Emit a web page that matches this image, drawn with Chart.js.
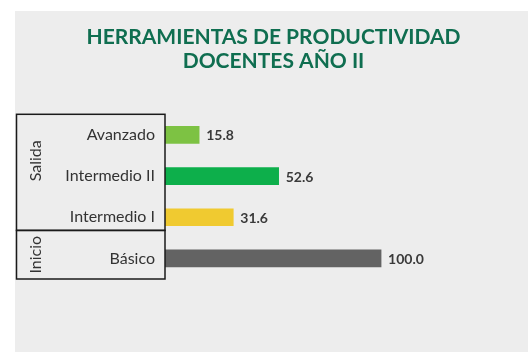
<!DOCTYPE html>
<html>
<head>
<meta charset="utf-8">
<script src="https://cdn.jsdelivr.net/npm/chart.js@4"></script>
<style>
  html, body { margin: 0; padding: 0; background: #ffffff; }
  #panel { position: absolute; left: 15px; top: 11px; width: 513px; height: 341px; background: #ededed; }
</style>
</head>
<body>
<div id="panel"><canvas id="grafico" width="513" height="341"></canvas></div>
<script>
const categorias = ['Avanzado', 'Intermedio II', 'Intermedio I', 'Básico'];
const valores = [15.8, 52.6, 31.6, 100.0];
const colores = ['#7dc243', '#0daf4b', '#f0ca30', '#636363'];
const grupos = [
    { nombre: 'Salida', desde: 0, hasta: 2 },
    { nombre: 'Inicio', desde: 3, hasta: 3 }
];

// etiquetas de valor al final de cada barra
const etiquetasValor = {
    id: 'etiquetasValor',
    afterDatasetsDraw(chart) {
        const ctx = chart.ctx;
        const meta = chart.getDatasetMeta(0);
        ctx.save();
        ctx.font = 'bold 14px Lato';
        ctx.fillStyle = '#3a3a3a';
        ctx.textBaseline = 'middle';
        meta.data.forEach((bar, i) => {
            ctx.fillText(valores[i].toFixed(1), bar.x + 7, bar.y + 1);
        });
        ctx.restore();
    }
};

// marco de grupos (Salida / Inicio) a la izquierda
const marcoGrupos = {
    id: 'marcoGrupos',
    afterDraw(chart) {
        const ctx = chart.ctx;
        const y = chart.scales.y;
        const area = chart.chartArea;
        const izq = 1.5;
        const der = area.left;
        // el corte entre grupos queda algo más arriba del límite de banda
        const corte = y.getPixelForValue(2.32);
        const cajas = [
            { arriba: area.top, abajo: corte, texto: area.top + (corte - area.top) * 0.4 },
            { arriba: corte, abajo: area.bottom, texto: (corte + area.bottom) / 2 }
        ];
        ctx.save();
        ctx.strokeStyle = '#1a1a1a';
        ctx.lineWidth = 1.5;
        grupos.forEach((g, i) => {
            const c = cajas[i];
            ctx.strokeRect(izq, c.arriba, der - izq, c.abajo - c.arriba);
            ctx.save();
            ctx.translate(21, c.texto);
            ctx.rotate(-Math.PI / 2);
            ctx.font = '16px Lato';
            ctx.fillStyle = '#333333';
            ctx.textAlign = 'center';
            ctx.textBaseline = 'middle';
            ctx.fillText(g.nombre, 0, 0);
            ctx.restore();
        });
        ctx.restore();
    }
};

new Chart(document.getElementById('grafico'), {
    type: 'bar',
    data: {
        labels: categorias,
        datasets: [{
            data: valores,
            backgroundColor: colores,
            borderWidth: 0,
            barThickness: 17
        }]
    },
    options: {
        indexAxis: 'y',
        responsive: false,
        animation: false,
        layout: { padding: { left: 4, right: 0, bottom: 73 } },
        plugins: {
            legend: { display: false },
            tooltip: { enabled: false },
            title: {
                display: true,
                text: ['HERRAMIENTAS DE PRODUCTIVIDAD', 'DOCENTES AÑO II'],
                color: '#0f6e50',
                font: { family: 'Lato', size: 21, weight: 'bold', lineHeight: 1.15 },
                padding: { top: 14, bottom: 41 }
            }
        },
        scales: {
            x: {
                display: false,
                min: 0,
                max: 168
            },
            y: {
                grid: { display: false, drawTicks: false },
                border: { display: false },
                afterFit(scale) { scale.width = 146; },
                ticks: {
                    color: '#333333',
                    font: { family: 'Lato', size: 16 },
                    padding: 10
                }
            }
        }
    },
    plugins: [etiquetasValor, marcoGrupos]
});
</script>
</body>
</html>
